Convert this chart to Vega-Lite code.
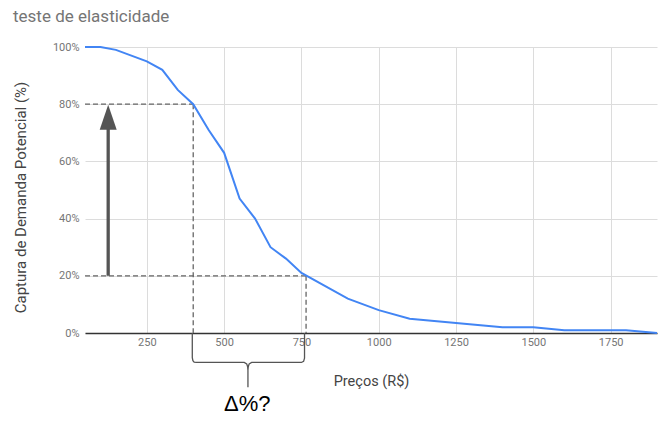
{
  "$schema": "https://vega.github.io/schema/vega-lite/v6.json",
  "width": 572,
  "height": 286,
  "autosize": "none",
  "padding": {"left": 85, "top": 47, "right": 5, "bottom": 90},
  "background": "white",
  "title": {"text": "teste de elasticidade", "anchor": "start", "frame": "group", "dx": -72, "offset": 2, "baseline": "alphabetic", "fontSize": 17, "font": "Roboto", "fontWeight": "normal", "color": "#757575"},
  "config": {"view": {"stroke": null}, "font": "Roboto"},
  "encoding": {
    "x": {
      "field": "preco", "type": "quantitative",
      "scale": {"domain": [50, 1900], "nice": false, "zero": false},
      "axis": {"values": [250, 500, 750, 1000, 1250, 1500, 1750], "format": "d", "title": "Preços (R$)", "grid": true, "gridColor": "#dcdcdc", "ticks": false, "domainColor": "#333333", "domainWidth": 1.3, "labelColor": "#757575", "labelFontSize": 11, "labelPadding": 3, "titleFontSize": 14.5, "titleFontWeight": "normal", "titleColor": "#444444", "titleY": 48, "titleBaseline": "middle"}
    },
    "y": {
      "field": "captura", "type": "quantitative",
      "scale": {"domain": [0, 1], "nice": false},
      "axis": {"values": [0, 0.2, 0.4, 0.6, 0.8, 1], "format": ".0%", "title": "Captura de Demanda Potencial (%)", "grid": true, "gridColor": "#dcdcdc", "domain": false, "ticks": false, "labelColor": "#757575", "labelFontSize": 11, "labelPadding": 6, "titleFontSize": 15, "titleFontWeight": "normal", "titleColor": "#444444", "titleX": -65, "titleY": 150, "titleAlign": "center", "titleBaseline": "middle", "titleAngle": 270}
    }
  },
  "layer": [
    {
      "data": {"values": [
        {"preco": 50, "preco2": 400, "captura": 0.8},
        {"preco": 50, "preco2": 765, "captura": 0.2}
      ]},
      "mark": {"type": "rule", "strokeDash": [5, 3], "color": "#666666", "strokeWidth": 1.3},
      "encoding": {"x2": {"field": "preco2"}}
    },
    {
      "data": {"values": [
        {"preco": 400, "captura": 0.8, "captura2": 0},
        {"preco": 765, "captura": 0.2, "captura2": 0}
      ]},
      "mark": {"type": "rule", "strokeDash": [5, 3], "color": "#666666", "strokeWidth": 1.3},
      "encoding": {"y2": {"field": "captura2"}}
    },
    {
      "data": {"values": [
        {"preco": 50, "captura": 1.0},
        {"preco": 100, "captura": 1.0},
        {"preco": 150, "captura": 0.99},
        {"preco": 250, "captura": 0.95},
        {"preco": 300, "captura": 0.92},
        {"preco": 350, "captura": 0.85},
        {"preco": 400, "captura": 0.80},
        {"preco": 450, "captura": 0.71},
        {"preco": 500, "captura": 0.63},
        {"preco": 550, "captura": 0.47},
        {"preco": 600, "captura": 0.40},
        {"preco": 650, "captura": 0.30},
        {"preco": 700, "captura": 0.26},
        {"preco": 750, "captura": 0.21},
        {"preco": 900, "captura": 0.12},
        {"preco": 1000, "captura": 0.08},
        {"preco": 1100, "captura": 0.05},
        {"preco": 1400, "captura": 0.02},
        {"preco": 1500, "captura": 0.02},
        {"preco": 1600, "captura": 0.01},
        {"preco": 1800, "captura": 0.01},
        {"preco": 1900, "captura": 0.0}
      ]},
      "mark": {"type": "line", "color": "#4285F4", "strokeWidth": 2}
    },
    {
      "data": {"values": [
        {"k": 1, "preco": 397, "captura": 0},
        {"k": 2, "preco": 397, "captura": -0.086},
        {"k": 3, "preco": 399, "captura": -0.097},
        {"k": 4, "preco": 403, "captura": -0.102},
        {"k": 5, "preco": 410, "captura": -0.103},
        {"k": 6, "preco": 565, "captura": -0.103},
        {"k": 7, "preco": 573, "captura": -0.108},
        {"k": 8, "preco": 576, "captura": -0.118},
        {"k": 9, "preco": 577, "captura": -0.13},
        {"k": 10, "preco": 577, "captura": -0.19},
        {"k": 11, "preco": 577, "captura": -0.13},
        {"k": 12, "preco": 578, "captura": -0.118},
        {"k": 13, "preco": 581, "captura": -0.108},
        {"k": 14, "preco": 589, "captura": -0.103},
        {"k": 15, "preco": 750, "captura": -0.103},
        {"k": 16, "preco": 757, "captura": -0.099},
        {"k": 17, "preco": 760, "captura": -0.088},
        {"k": 18, "preco": 760, "captura": 0}
      ]},
      "mark": {"type": "line", "color": "#555555", "strokeWidth": 1.3},
      "encoding": {"order": {"field": "k", "type": "quantitative"}}
    },
    {
      "data": {"values": [{"preco": 125, "captura": 0.2, "captura2": 0.72}]},
      "mark": {"type": "rule", "color": "#555555", "strokeWidth": 3.3},
      "encoding": {"y2": {"field": "captura2"}}
    },
    {
      "data": {"values": [{"preco": 125, "captura": 0.7545}]},
      "mark": {"type": "point", "shape": "M0,-1L0.68,1L-0.68,1Z", "size": 625, "filled": true, "color": "#555555", "opacity": 1}
    },
    {
      "data": {"values": [{"preco": 575, "captura": -0.247, "label": "Δ%?"}]},
      "mark": {"type": "text", "fontSize": 22, "font": "Liberation Sans", "color": "#000000", "align": "center", "baseline": "middle"},
      "encoding": {"text": {"field": "label"}}
    }
  ]
}
